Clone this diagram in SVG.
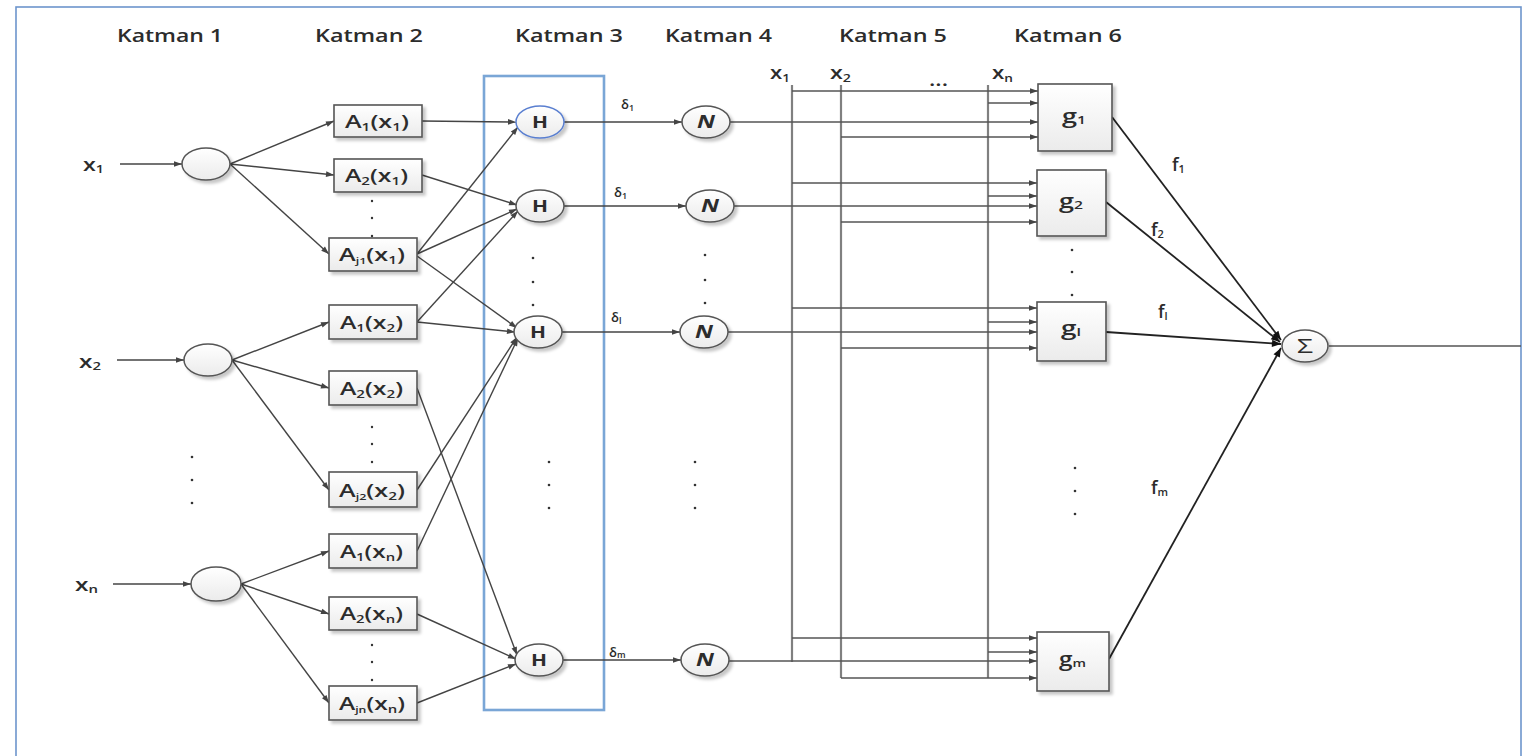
<svg xmlns="http://www.w3.org/2000/svg" width="1524" height="756" viewBox="0 0 1524 756">
<style>
.t{font-family:"Open Sans","Liberation Sans",sans-serif;font-weight:600;fill:#2c2c2c}
.hd{font-size:18px}
.lb{font-size:18px}
.s{font-size:11px}
.sm{font-size:13px;font-weight:600}
.hn{font-size:16px;font-weight:700}
.nn{font-size:17px;font-weight:700;font-style:italic}
.gg{font-size:19px;font-weight:600}
.sg{font-size:20px;font-weight:400}
.nd{fill:url(#gr);stroke:#555;stroke-width:1.5;filter:url(#sh)}
.bx{fill:url(#gr);stroke:#555;stroke-width:1.6;filter:url(#sh)}
.c{fill:none;stroke:#444;stroke-width:1.4;marker-end:url(#ah)}
.cf{fill:none;stroke:#222;stroke-width:1.8;marker-end:url(#ahb)}
.ln{fill:none;stroke:#555;stroke-width:1.4}
.bus{fill:none;stroke:#808080;stroke-width:2.2}
.tap{fill:none;stroke:#555;stroke-width:1.3;marker-end:url(#ah)}
.dot{fill:#333}
</style>
<defs>
<linearGradient id="gr" x1="0" y1="0" x2="0" y2="1"><stop offset="0" stop-color="#ffffff"/><stop offset="1" stop-color="#ebebeb"/></linearGradient>
<filter id="sh" x="-20%" y="-20%" width="150%" height="150%"><feDropShadow dx="3" dy="3" stdDeviation="1.5" flood-color="#000" flood-opacity="0.22"/></filter>
<marker id="ah" viewBox="0 0 10 10" refX="10" refY="5" markerWidth="11" markerHeight="8" markerUnits="userSpaceOnUse" orient="auto"><path d="M0,1.5 L10,5 L0,8.5 z" fill="#444"/></marker>
<marker id="ahb" viewBox="0 0 10 10" refX="10" refY="5" markerWidth="11" markerHeight="9" markerUnits="userSpaceOnUse" orient="auto"><path d="M0,1 L10,5 L0,9 z" fill="#111"/></marker>
</defs>
<rect x="16" y="7" width="1505" height="770" fill="#fff" stroke="#6d95cc" stroke-width="1.6"/>
<rect id="katman3-frame" x="484" y="76" width="120" height="634" fill="none" stroke="#7aa6d6" stroke-width="2.6"/>

<g id="headers">
<text class="t hd" x="117" y="42" textLength="106" lengthAdjust="spacingAndGlyphs">Katman 1</text>
<text class="t hd" x="315" y="42" textLength="108" lengthAdjust="spacingAndGlyphs">Katman 2</text>
<text class="t hd" x="515" y="42" textLength="108" lengthAdjust="spacingAndGlyphs">Katman 3</text>
<text class="t hd" x="665" y="42" textLength="107" lengthAdjust="spacingAndGlyphs">Katman 4</text>
<text class="t hd" x="839" y="42" textLength="108" lengthAdjust="spacingAndGlyphs">Katman 5</text>
<text class="t hd" x="1014" y="42" textLength="108" lengthAdjust="spacingAndGlyphs">Katman 6</text>
</g>

<g id="connectors">
<line class="c" x1="120" y1="164" x2="182" y2="164"/>
<line class="c" x1="117" y1="360" x2="184" y2="360"/>
<line class="c" x1="113" y1="584" x2="191" y2="584"/>
<line class="c" x1="230" y1="164" x2="334" y2="121"/>
<line class="c" x1="230" y1="164" x2="334" y2="175"/>
<line class="c" x1="230" y1="164" x2="329" y2="254"/>
<line class="c" x1="232" y1="360" x2="329" y2="322"/>
<line class="c" x1="232" y1="360" x2="329" y2="388"/>
<line class="c" x1="232" y1="360" x2="329" y2="490"/>
<line class="c" x1="241" y1="584" x2="329" y2="551"/>
<line class="c" x1="241" y1="584" x2="329" y2="614"/>
<line class="c" x1="241" y1="584" x2="329" y2="703"/>
<line class="c" x1="422" y1="121" x2="516" y2="122"/>
<line class="c" x1="422" y1="175" x2="517" y2="205"/>
<line class="c" x1="417" y1="254" x2="518" y2="127"/>
<line class="c" x1="417" y1="254" x2="517" y2="209"/>
<line class="c" x1="417" y1="256" x2="517" y2="328"/>
<line class="c" x1="417" y1="322" x2="518" y2="211"/>
<line class="c" x1="417" y1="322" x2="515" y2="332"/>
<line class="c" x1="417" y1="490" x2="517" y2="337"/>
<line class="c" x1="417" y1="551" x2="518" y2="338"/>
<line class="c" x1="417" y1="388" x2="517" y2="655"/>
<line class="c" x1="417" y1="614" x2="516" y2="659"/>
<line class="c" x1="417" y1="703" x2="516" y2="664"/>
<line class="c" x1="564" y1="122" x2="682" y2="122"/>
<line class="c" x1="564" y1="206" x2="686" y2="206"/>
<line class="c" x1="562" y1="332" x2="680" y2="332"/>
<line class="c" x1="563" y1="660" x2="681" y2="660"/>
<line class="bus" x1="792" y1="85" x2="792" y2="662"/>
<line class="bus" x1="841" y1="85" x2="841" y2="678"/>
<line class="bus" x1="988" y1="85" x2="988" y2="678"/>
<line class="tap" x1="730" y1="122" x2="1038" y2="122"/>
<line class="tap" x1="734" y1="206" x2="1037" y2="206"/>
<line class="tap" x1="728" y1="332" x2="1037" y2="332"/>
<line class="tap" x1="729" y1="661" x2="1037" y2="661"/>
<line class="tap" x1="792" y1="91" x2="1038" y2="91"/>
<line class="tap" x1="988" y1="103" x2="1038" y2="103"/>
<line class="tap" x1="841" y1="137" x2="1038" y2="137"/>
<line class="tap" x1="792" y1="183" x2="1037" y2="183"/>
<line class="tap" x1="988" y1="196" x2="1037" y2="196"/>
<line class="tap" x1="841" y1="222" x2="1037" y2="222"/>
<line class="tap" x1="792" y1="308" x2="1037" y2="308"/>
<line class="tap" x1="988" y1="322" x2="1037" y2="322"/>
<line class="tap" x1="841" y1="348" x2="1037" y2="348"/>
<line class="tap" x1="792" y1="638" x2="1037" y2="638"/>
<line class="tap" x1="988" y1="652" x2="1037" y2="652"/>
<line class="tap" x1="841" y1="678" x2="1037" y2="678"/>
<line class="cf" x1="1112" y1="117" x2="1281" y2="340"/>
<line class="cf" x1="1106" y1="202" x2="1280" y2="342"/>
<line class="cf" x1="1106" y1="332" x2="1281" y2="344"/>
<line class="cf" x1="1109" y1="659" x2="1281" y2="348"/>
<line class="ln" x1="1329" y1="346" x2="1521" y2="346"/>
</g>

<g id="edge-labels">
<text class="t sm" x="621" y="109">δ<tspan font-size="9" dy="2">1</tspan></text>
<text class="t sm" x="614" y="197">δ<tspan font-size="9" dy="2">1</tspan></text>
<text class="t sm" x="611" y="322">δ<tspan font-size="9" dy="2">l</tspan></text>
<text class="t sm" x="609" y="657">δ<tspan font-size="9" dy="1">m</tspan></text>
<text class="t lb" x="1172" y="171">f<tspan class="s" dy="2">1</tspan></text>
<text class="t lb" x="1151" y="236">f<tspan class="s" dy="2">2</tspan></text>
<text class="t lb" x="1158" y="318">f<tspan class="s" dy="2">l</tspan></text>
<text class="t lb" x="1151" y="494">f<tspan class="s" dy="2">m</tspan></text>
<text class="t lb" x="770" y="79" textLength="20" lengthAdjust="spacingAndGlyphs">x<tspan class="s" dy="3">1</tspan></text>
<text class="t lb" x="830" y="79" textLength="21" lengthAdjust="spacingAndGlyphs">x<tspan class="s" dy="3">2</tspan></text>
<text class="t" font-size="18" x="929" y="86" textLength="19" lengthAdjust="spacingAndGlyphs">...</text>
<text class="t lb" x="992" y="79" textLength="21" lengthAdjust="spacingAndGlyphs">x<tspan class="s" dy="3">n</tspan></text>
</g>

<g id="inputs">
<text class="t lb" x="83" y="171" textLength="21" lengthAdjust="spacingAndGlyphs">x<tspan class="s" dy="2">1</tspan></text>
<text class="t lb" x="79" y="368" textLength="22" lengthAdjust="spacingAndGlyphs">x<tspan class="s" dy="2">2</tspan></text>
<text class="t lb" x="75" y="591" textLength="23" lengthAdjust="spacingAndGlyphs">x<tspan class="s" dy="2">n</tspan></text>
</g>

<g id="katman1-nodes">
<ellipse id="k1-x1" class="nd" cx="206" cy="164" rx="24" ry="16"/>
<ellipse id="k1-x2" class="nd" cx="208" cy="360" rx="24" ry="16"/>
<ellipse id="k1-xn" class="nd" cx="216" cy="584" rx="25" ry="17"/>
</g>

<g id="A1x1"><rect class="bx" x="334" y="105" width="88" height="32"/><text class="t lb" x="345" y="128" textLength="64" lengthAdjust="spacingAndGlyphs">A<tspan class="s" dy="3">1</tspan><tspan dy="-3">(x</tspan><tspan class="s" dy="3">1</tspan><tspan dy="-3">)</tspan></text></g>
<g id="A2x1"><rect class="bx" x="334" y="159" width="88" height="33"/><text class="t lb" x="345" y="182" textLength="63" lengthAdjust="spacingAndGlyphs">A<tspan class="s" dy="3">2</tspan><tspan dy="-3">(x</tspan><tspan class="s" dy="3">1</tspan><tspan dy="-3">)</tspan></text></g>
<g id="Aj1x1"><rect class="bx" x="329" y="238" width="88" height="33"/><text class="t lb" x="339" y="261" textLength="66" lengthAdjust="spacingAndGlyphs">A<tspan font-size="9" dy="3">j1</tspan><tspan dy="-3">(x</tspan><tspan class="s" dy="3">1</tspan><tspan dy="-3">)</tspan></text></g>
<g id="A1x2"><rect class="bx" x="329" y="305" width="88" height="34"/><text class="t lb" x="340" y="329" textLength="63" lengthAdjust="spacingAndGlyphs">A<tspan class="s" dy="3">1</tspan><tspan dy="-3">(x</tspan><tspan class="s" dy="3">2</tspan><tspan dy="-3">)</tspan></text></g>
<g id="A2x2"><rect class="bx" x="329" y="371" width="88" height="34"/><text class="t lb" x="340" y="395" textLength="63" lengthAdjust="spacingAndGlyphs">A<tspan class="s" dy="3">2</tspan><tspan dy="-3">(x</tspan><tspan class="s" dy="3">2</tspan><tspan dy="-3">)</tspan></text></g>
<g id="Aj2x2"><rect class="bx" x="329" y="472" width="88" height="35"/><text class="t lb" x="339" y="497" textLength="66" lengthAdjust="spacingAndGlyphs">A<tspan font-size="9" dy="3">j2</tspan><tspan dy="-3">(x</tspan><tspan class="s" dy="3">2</tspan><tspan dy="-3">)</tspan></text></g>
<g id="A1xn"><rect class="bx" x="329" y="534" width="88" height="34"/><text class="t lb" x="340" y="558" textLength="63" lengthAdjust="spacingAndGlyphs">A<tspan class="s" dy="3">1</tspan><tspan dy="-3">(x</tspan><tspan class="s" dy="3">n</tspan><tspan dy="-3">)</tspan></text></g>
<g id="A2xn"><rect class="bx" x="329" y="597" width="88" height="33"/><text class="t lb" x="340" y="620" textLength="63" lengthAdjust="spacingAndGlyphs">A<tspan class="s" dy="3">2</tspan><tspan dy="-3">(x</tspan><tspan class="s" dy="3">n</tspan><tspan dy="-3">)</tspan></text></g>
<g id="Ajnxn"><rect class="bx" x="329" y="686" width="88" height="34"/><text class="t lb" x="339" y="710" textLength="66" lengthAdjust="spacingAndGlyphs">A<tspan font-size="9" dy="3">jn</tspan><tspan dy="-3">(x</tspan><tspan class="s" dy="3">n</tspan><tspan dy="-3">)</tspan></text></g>

<g id="H1"><ellipse class="nd" cx="540" cy="122" rx="24" ry="16" style="stroke:#5a7fd0"/><text class="t hn" x="532" y="128" textLength="16" lengthAdjust="spacingAndGlyphs">H</text></g>
<g id="H2"><ellipse class="nd" cx="540" cy="206" rx="24" ry="16"/><text class="t hn" x="532" y="212" textLength="16" lengthAdjust="spacingAndGlyphs">H</text></g>
<g id="Hl"><ellipse class="nd" cx="538" cy="332" rx="24" ry="16"/><text class="t hn" x="530" y="338" textLength="16" lengthAdjust="spacingAndGlyphs">H</text></g>
<g id="Hm"><ellipse class="nd" cx="539" cy="660" rx="24" ry="16"/><text class="t hn" x="531" y="666" textLength="16" lengthAdjust="spacingAndGlyphs">H</text></g>

<g id="N1"><ellipse class="nd" cx="706" cy="122" rx="24" ry="16"/><text class="t nn" x="697" y="128" textLength="18" lengthAdjust="spacingAndGlyphs">N</text></g>
<g id="N2"><ellipse class="nd" cx="710" cy="206" rx="24" ry="16"/><text class="t nn" x="701" y="212" textLength="18" lengthAdjust="spacingAndGlyphs">N</text></g>
<g id="Nl"><ellipse class="nd" cx="704" cy="332" rx="24" ry="16"/><text class="t nn" x="695" y="338" textLength="18" lengthAdjust="spacingAndGlyphs">N</text></g>
<g id="Nm"><ellipse class="nd" cx="705" cy="660" rx="24" ry="16"/><text class="t nn" x="696" y="666" textLength="18" lengthAdjust="spacingAndGlyphs">N</text></g>

<g id="g1"><rect class="bx" x="1038" y="84" width="74" height="67"/><text class="t gg" x="1062" y="123" textLength="24" lengthAdjust="spacingAndGlyphs">g<tspan class="s" dy="1">1</tspan></text></g>
<g id="g2"><rect class="bx" x="1037" y="170" width="69" height="66"/><text class="t gg" x="1059" y="208" textLength="24" lengthAdjust="spacingAndGlyphs">g<tspan class="s" dy="1">2</tspan></text></g>
<g id="gl"><rect class="bx" x="1037" y="302" width="69" height="59"/><text class="t gg" x="1061" y="335" textLength="20" lengthAdjust="spacingAndGlyphs">g<tspan class="s" dy="1">l</tspan></text></g>
<g id="gm"><rect class="bx" x="1037" y="632" width="72" height="59"/><text class="t gg" x="1059" y="666" textLength="27" lengthAdjust="spacingAndGlyphs">g<tspan class="s" dy="1">m</tspan></text></g>

<g id="sum"><ellipse class="nd" cx="1305" cy="346" rx="23" ry="16"/><text class="t sg" x="1297" y="353" textLength="16" lengthAdjust="spacingAndGlyphs">Σ</text></g>

<g id="dots">
<circle class="dot" cx="192" cy="457" r="1.3"/><circle class="dot" cx="192" cy="480" r="1.3"/><circle class="dot" cx="192" cy="503" r="1.3"/>
<circle class="dot" cx="372" cy="201" r="1.2"/><circle class="dot" cx="372" cy="218" r="1.2"/><circle class="dot" cx="372" cy="236" r="1.2"/>
<circle class="dot" cx="372" cy="427" r="1.2"/><circle class="dot" cx="372" cy="444" r="1.2"/><circle class="dot" cx="372" cy="462" r="1.2"/>
<circle class="dot" cx="372" cy="645" r="1.2"/><circle class="dot" cx="372" cy="662" r="1.2"/><circle class="dot" cx="372" cy="680" r="1.2"/>
<circle class="dot" cx="533" cy="258" r="1.3"/><circle class="dot" cx="533" cy="282" r="1.3"/><circle class="dot" cx="533" cy="305" r="1.3"/>
<circle class="dot" cx="549" cy="462" r="1.3"/><circle class="dot" cx="549" cy="485" r="1.3"/><circle class="dot" cx="549" cy="508" r="1.3"/>
<circle class="dot" cx="705" cy="255" r="1.3"/><circle class="dot" cx="705" cy="280" r="1.3"/><circle class="dot" cx="705" cy="303" r="1.3"/>
<circle class="dot" cx="695" cy="462" r="1.3"/><circle class="dot" cx="695" cy="485" r="1.3"/><circle class="dot" cx="695" cy="508" r="1.3"/>
<circle class="dot" cx="1072" cy="250" r="1.3"/><circle class="dot" cx="1072" cy="272" r="1.3"/><circle class="dot" cx="1072" cy="295" r="1.3"/>
<circle class="dot" cx="1075" cy="468" r="1.3"/><circle class="dot" cx="1075" cy="491" r="1.3"/><circle class="dot" cx="1075" cy="514" r="1.3"/>
</g>
</svg>
